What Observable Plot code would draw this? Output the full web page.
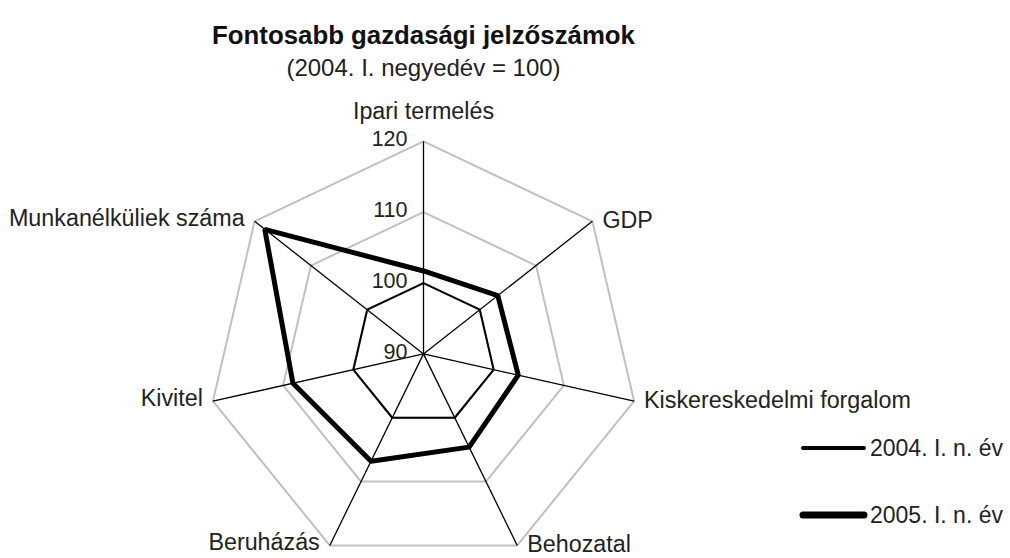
<!DOCTYPE html>
<html>
<head>
<meta charset="utf-8">
<script src="https://cdn.jsdelivr.net/npm/d3@7"></script>
<script src="https://cdn.jsdelivr.net/npm/@observablehq/plot@0.6"></script>
<style>
  html, body { margin: 0; padding: 0; background: #fff; }
  #wrap { position: relative; width: 1010px; height: 558px; font-family: "Liberation Sans", Arial, sans-serif; }
  #legend { position: absolute; left: 798px; top: 430px; font-size: 23px; color: #222; }
  #legend .item { position: absolute; left: 0; white-space: nowrap; display: flex; align-items: center; }
  #legend svg { display: block; }
</style>
</head>
<body>
<div id="wrap"></div>
<script>
// ---- data ----
const title = "Fontosabb gazdasági jelzőszámok";
const subtitle = "(2004. I. negyedév = 100)";
const categories = ["Ipari termelés", "GDP", "Kiskereskedelmi forgalom", "Behozatal", "Beruházás", "Kivitel", "Munkanélküliek száma"];
const series2004 = [100, 100, 100, 100, 100, 100, 100];
const series2005 = [101.7, 103.2, 103.5, 104.6, 106.8, 108.6, 118.2];
const seriesNames = ["2004. I. n. év", "2005. I. n. év"];
const ticks = [90, 100, 110, 120];

// ---- geometry helpers (data -> polar -> cartesian data units) ----
const rMin = ticks[0];
const rMax = ticks[ticks.length - 1];
const n = categories.length;
const ang = i => i * 2 * Math.PI / n;
const px = (i, v) => (v - rMin) * Math.sin(ang(i));
const py = (i, v) => (v - rMin) * Math.cos(ang(i));

// closed polygons
function ring(values, key) {
  const pts = values.map((v, i) => ({x: px(i, v), y: py(i, v), key}));
  pts.push({...pts[0]});
  return pts;
}
const gridRings = ticks.slice(1).flatMap(t => ring(categories.map(() => t), "t" + t));
const poly2004 = ring(series2004, seriesNames[0]);
const poly2005 = ring(series2005, seriesNames[1]);
const spokes = categories.map((c, i) => ({x2: px(i, rMax), y2: py(i, rMax)}));
const labels = categories.map((c, i) => {
  const s = Math.sin(ang(i));
  return {
    text: c,
    x: px(i, rMax), y: py(i, rMax),
    anchor: s > 0.01 ? "start" : s < -0.01 ? "end" : "middle",
    top: Math.abs(s) <= 0.01
  };
});
const tickLabels = ticks.map(t => ({x: 0, y: t - rMin, text: String(t)}));

// ---- layout: scale so that the radar sits like the reference ----
const W = 1010, H = 558;
const cx = 423, cy = 353.4;          // centre of radar in px
const kx = 216 / (rMax - rMin);      // px per unit horizontally
const ky = 212.6 / (rMax - rMin);    // px per unit vertically

const font = "Liberation Sans, Arial, sans-serif";
const txt = "#222";

const chart = Plot.plot({
  width: W, height: H,
  margin: 0,
  style: {fontFamily: font, background: "#fff", overflow: "visible"},
  x: {domain: [-cx / kx, (W - cx) / kx], range: [0, W], axis: null},
  y: {domain: [-(H - cy) / ky, cy / ky], range: [H, 0], axis: null},
  marks: [
    // grid rings
    Plot.line(gridRings, {x: "x", y: "y", z: "key", stroke: "#c0c0c0", strokeWidth: 2}),
    // spokes
    Plot.link(spokes, {x1: () => 0, y1: () => 0, x2: "x2", y2: "y2", stroke: "#000", strokeWidth: 1.3}),
    // series
    Plot.line(poly2004, {x: "x", y: "y", stroke: "#000", strokeWidth: 2}),
    Plot.line(poly2005, {x: "x", y: "y", stroke: "#000", strokeWidth: 5, strokeLinejoin: "miter"}),
    // tick labels
    Plot.text(tickLabels, {x: "x", y: "y", text: "text", textAnchor: "end", dx: -16, dy: -2, fontSize: 21.5, fill: txt}),
    // category labels
    Plot.text(labels.filter(d => d.anchor === "start"), {x: "x", y: "y", text: "text", textAnchor: "start", dx: 10, dy: -1, fontSize: 23.3, fill: txt}),
    Plot.text(labels.filter(d => d.anchor === "end"), {x: "x", y: "y", text: "text", textAnchor: "end", dx: -10, dy: -3, fontSize: 23.3, fill: txt}),
    Plot.text(labels.filter(d => d.top), {x: "x", y: "y", text: "text", textAnchor: "middle", dy: -30, fontSize: 23.3, fill: txt}),
    // title and subtitle
    Plot.text([title], {x: () => 0, frameAnchor: "top", text: d => d, dy: 25, fontSize: 25.8, fontWeight: "bold", fill: "#111"}),
    Plot.text([subtitle], {x: () => 0, frameAnchor: "top", text: d => d, dy: 58, fontSize: 24, fill: txt})
  ]
});

const wrap = document.getElementById("wrap");
wrap.appendChild(chart);

// legend
const legend = document.createElement("div");
legend.id = "legend";
const legendStyles = [{w: 4, top: 0}, {w: 7, top: 67}];
seriesNames.forEach((name, i) => {
  const item = document.createElement("div");
  item.className = "item";
  item.style.top = legendStyles[i].top + "px";
  item.innerHTML = `<svg width="72" height="36"><line x1="5" y1="18" x2="66" y2="18" stroke="#000" stroke-width="${legendStyles[i].w}" stroke-linecap="round"/></svg><span>${name}</span>`;
  legend.appendChild(item);
});
wrap.appendChild(legend);
</script>
</body>
</html>
